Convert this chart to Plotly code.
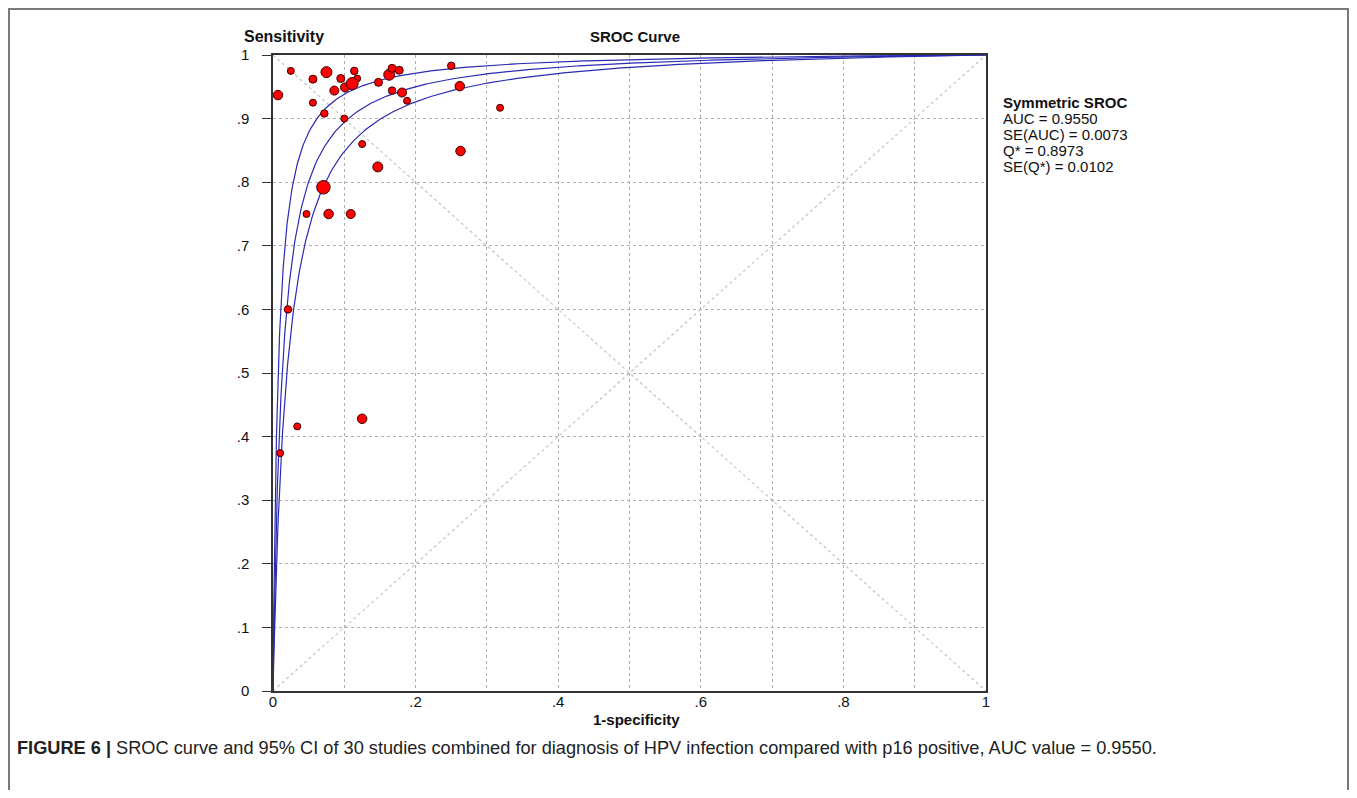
import numpy as np
import plotly.graph_objects as go

# ---- data ----
fpr = [0.007, 0.025, 0.056, 0.056, 0.072, 0.075, 0.095, 0.086, 0.114, 0.118,
       0.101, 0.111, 0.100, 0.148, 0.163, 0.167, 0.177, 0.167, 0.181, 0.188,
       0.250, 0.262, 0.3185, 0.125, 0.263, 0.147, 0.0707, 0.047, 0.078, 0.109,
       0.021, 0.034, 0.125, 0.010]
sens = [0.937, 0.975, 0.962, 0.925, 0.908, 0.973, 0.963, 0.944, 0.975, 0.963,
        0.949, 0.955, 0.900, 0.957, 0.969, 0.979, 0.976, 0.944, 0.941, 0.928,
        0.983, 0.951, 0.917, 0.860, 0.849, 0.824, 0.792, 0.750, 0.750, 0.750,
        0.600, 0.416, 0.428, 0.374]
study_weight = [9.5, 7, 8, 7, 7.5, 11, 8, 9, 7.5, 7,
                9, 12, 7, 8, 11, 8, 8, 7.5, 9, 7,
                7.5, 9.5, 7, 7, 9.5, 10, 13.5, 7, 9.5, 9,
                7.5, 7, 9.5, 7]

# symmetric SROC: Q* of fitted curve and of the two confidence curves
q_star = [0.8973, 0.9213, 0.8765]

tick_vals = [0, 0.1, 0.2, 0.3, 0.4, 0.5, 0.6, 0.7, 0.8, 0.9, 1.0]
y_tick_text = ["0", ".1", ".2", ".3", ".4", ".5", ".6", ".7", ".8", ".9", "1"]
x_tick_text = ["0", "", ".2", "", ".4", "", ".6", "", ".8", "", "1"]

legend_lines = ["<b>Symmetric SROC</b>", "AUC = 0.9550", "SE(AUC) = 0.0073",
                "Q* = 0.8973", "SE(Q*) = 0.0102"]
caption = ("<b>FIGURE 6 |</b> SROC curve and 95% CI of 30 studies combined for diagnosis "
           "of HPV infection compared with p16 positive, AUC value = 0.9550.")

FONT = "Liberation Sans, Arial, sans-serif"

fig = go.Figure()

# SROC curves
t = np.concatenate([np.geomspace(1e-6, 0.05, 300), np.linspace(0.05, 1.0, 400)[1:]])
for q in q_star:
    dor = (q / (1 - q)) ** 2
    tpr = 1.0 / (1.0 + (1 - t) / (t * dor))
    fig.add_trace(go.Scatter(
        x=np.concatenate([[0.0], t]), y=np.concatenate([[0.0], tpr]),
        mode="lines", line=dict(color="#2a2ab4", width=1.2),
        hoverinfo="skip", showlegend=False))

# studies
fig.add_trace(go.Scatter(
    x=fpr, y=sens, mode="markers",
    marker=dict(size=study_weight, color="#ff0000", opacity=1,
                line=dict(color="#3a0000", width=1)),
    showlegend=False))

# page has an 8px body margin on every side -> keep the figure inside the viewport
OFF = 8
W, H = 1357 - 2 * OFF, 798 - 2 * OFF
L, R, T, B = 273 - OFF, 986 - OFF, 55 - OFF, 691 - OFF


def px_x(p):
    return (p - OFF - L) / (R - L)


def px_y(p):
    return (B - (p - OFF)) / (B - T)


annotations = [
    dict(text="<b>Sensitivity</b>", x=px_x(242), y=px_y(37), xanchor="left", yanchor="middle",
         font=dict(size=16, color="#111")),
    dict(text="<b>SROC Curve</b>", x=px_x(635), y=px_y(37), xanchor="center", yanchor="middle",
         font=dict(size=15, color="#111")),
    dict(text="<b>1-specificity</b>", x=px_x(636), y=px_y(719), xanchor="center", yanchor="middle",
         font=dict(size=15, color="#111")),
    dict(text=caption, x=px_x(15), y=px_y(748), xanchor="left", yanchor="middle",
         font=dict(size=18.2, color="#222")),
]
for i, line in enumerate(legend_lines):
    annotations.append(dict(text=line, x=px_x(1001), y=px_y(102 + 16.2 * i),
                            xanchor="left", yanchor="middle",
                            font=dict(size=15, color="#111")))
for a in annotations:
    a.update(xref="paper", yref="paper", showarrow=False)

shapes = [
    dict(type="line", xref="x", yref="y", x0=0, y0=0, x1=1, y1=1,
         line=dict(color="#c4c4c4", width=1.2, dash="3px,3px"), layer="below"),
    dict(type="line", xref="x", yref="y", x0=0, y0=1, x1=1, y1=0,
         line=dict(color="#c4c4c4", width=1.2, dash="3px,3px"), layer="below"),
    dict(type="rect", xref="paper", yref="paper", x0=px_x(9), x1=px_x(1348),
         y0=px_y(9), y1=px_y(830), line=dict(color="#7a7a7a", width=2)),
]

fig.update_layout(
    width=W, height=H,
    margin=dict(l=L, r=W - R, t=T, b=H - B),
    paper_bgcolor="white", plot_bgcolor="white",
    font=dict(family=FONT, size=15, color="#111"),
    showlegend=False,
    annotations=annotations, shapes=shapes,
    xaxis=dict(range=[0, 1], tickvals=tick_vals, ticktext=x_tick_text,
               showgrid=True, gridcolor="#b0b0b0", gridwidth=1, griddash="dot",
               showline=True, linecolor="#333", linewidth=1.5, mirror=True,
               zeroline=False, ticks="", tickfont=dict(size=15),
               ticklabelstandoff=-4),
    yaxis=dict(range=[0, 1], tickvals=tick_vals, ticktext=y_tick_text,
               showgrid=True, gridcolor="#b0b0b0", gridwidth=1, griddash="dot",
               showline=True, linecolor="#333", linewidth=1.5, mirror=True,
               zeroline=False, ticks="outside", ticklen=9, tickcolor="#333",
               ticklabelstandoff=10, tickfont=dict(size=15)),
)

fig.write_html("out.html")
